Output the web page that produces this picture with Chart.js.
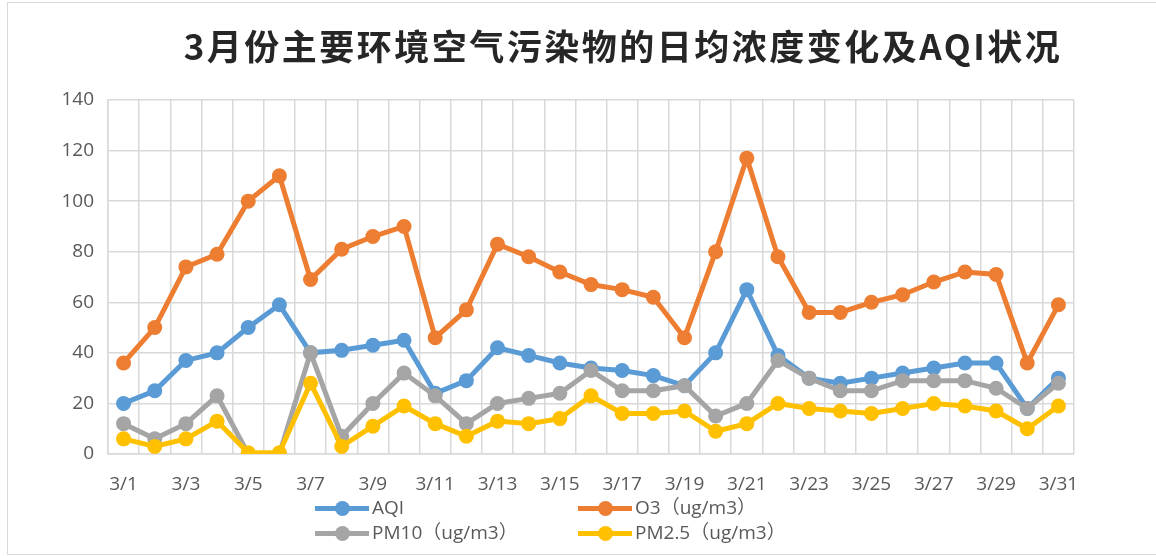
<!DOCTYPE html>
<html>
<head>
<meta charset="utf-8">
<script src="https://cdn.jsdelivr.net/npm/chart.js@4"></script>
<style>
  body { margin: 0; background: #ffffff; }
  .wrap { position: relative; width: 1156px; height: 556px; overflow: hidden; }
  .frame { position: absolute; left: 7px; top: 2px; width: 1200px; height: 551px; border: 1px solid #d9d9d9; }
  .title {
    position: absolute; left: 90px; right: 0; top: 19px; text-align: center;
    font-family: "Noto Sans CJK SC", sans-serif; font-weight: bold; font-size: 35px;
    letter-spacing: 2.5px; color: #262626;
  }
  canvas { position: absolute; left: 0; top: 0; }
  .legend { position: absolute; left: 0; top: 0; font-family: "Open Sans", "Noto Sans CJK SC", sans-serif; font-size: 19px; color: #595959; }
  .item { position: absolute; height: 24px; line-height: 24px; white-space: nowrap; }
  .item .line { position: absolute; left: 0; top: 10px; width: 54px; height: 5px; }
  .item .dot { position: absolute; left: 20px; top: 5px; width: 15px; height: 15px; border-radius: 50%; }
  .item .txt { position: absolute; left: 57px; top: -1px; }
</style>
</head>
<body>
<div class="wrap">
  <div class="frame"></div>
  <canvas id="lineChart" width="1156" height="556"></canvas>
  <div class="title">3月份主要环境空气污染物的日均浓度变化及AQI状况</div>
  <div class="legend" id="legend"></div>
</div>
<script>
const days = ['3/1', '3/2', '3/3', '3/4', '3/5', '3/6', '3/7', '3/8', '3/9', '3/10',
    '3/11', '3/12', '3/13', '3/14', '3/15', '3/16', '3/17', '3/18', '3/19', '3/20',
    '3/21', '3/22', '3/23', '3/24', '3/25', '3/26', '3/27', '3/28', '3/29', '3/30', '3/31'];
const aqi = [20, 25, 37, 40, 50, 59, 40, 41, 43, 45, 24, 29, 42, 39, 36, 34, 33, 31, 27, 40, 65, 39, 30, 28, 30, 32, 34, 36, 36, 18, 30];
const o3 = [36, 50, 74, 79, 100, 110, 69, 81, 86, 90, 46, 57, 83, 78, 72, 67, 65, 62, 46, 80, 117, 78, 56, 56, 60, 63, 68, 72, 71, 36, 59];
const pm10 = [12, 6, 12, 23, 0, 0, 40, 7, 20, 32, 23, 12, 20, 22, 24, 33, 25, 25, 27, 15, 20, 37, 30, 25, 25, 29, 29, 29, 26, 18, 28];
const pm25 = [6, 3, 6, 13, 0.5, 0.5, 28, 3, 11, 19, 12, 7, 13, 12, 14, 23, 16, 16, 17, 9, 12, 20, 18, 17, 16, 18, 20, 19, 17, 10, 19];
const yTicks = [0, 20, 40, 60, 80, 100, 120, 140];

const seriesNames = ['AQI', 'O3（ug/m3）', 'PM10（ug/m3）', 'PM2.5（ug/m3）'];
const seriesColors = ['#5b9bd5', '#ed7d31', '#a5a5a5', '#ffc000'];
const seriesData = [aqi, o3, pm10, pm25];

const tickFont = { family: '"Open Sans", sans-serif', size: 19 };
const gridColor = '#d9d9d9';

const ctx = document.getElementById('lineChart').getContext('2d');

let chartConfig = {
    type: 'line',
    data: {
        labels: days,
        datasets: seriesData.map(function(values, i) {
            return {
                label: seriesNames[i],
                data: values,
                borderColor: seriesColors[i],
                backgroundColor: seriesColors[i],
                pointBackgroundColor: seriesColors[i],
                pointBorderColor: seriesColors[i],
                borderWidth: 5,
                pointRadius: 7.5,
                pointBorderWidth: 0,
                tension: 0,
                order: 4 - i // later series on top, like the original
            };
        })
    },
    options: {
        responsive: false,
        animation: false,
        layout: {
            padding: { left: 0, top: 100, right: 82, bottom: 0 }
        },
        plugins: {
            legend: { display: false },
            title: { display: false },
            tooltip: { enabled: false }
        },
        scales: {
            y: {
                min: 0,
                max: 140,
                afterBuildTicks: function(scale) {
                    scale.ticks = yTicks.map(function(v) { return { value: v }; });
                },
                afterFit: function(scale) {
                    scale.width = 108;
                },
                ticks: {
                    font: tickFont,
                    color: '#595959',
                    padding: 14
                },
                grid: {
                    color: gridColor,
                    lineWidth: 1.5,
                    drawTicks: false
                },
                border: { display: true, color: gridColor, width: 1.5 }
            },
            x: {
                offset: true,
                afterFit: function(scale) {
                    scale.height = 102;
                },
                ticks: {
                    autoSkip: false,
                    maxRotation: 0,
                    font: tickFont,
                    color: '#595959',
                    padding: 19,
                    callback: function(value, index) {
                        return index % 2 === 0 ? days[index] : '';
                    }
                },
                grid: {
                    offset: true,
                    color: gridColor,
                    lineWidth: 1.5,
                    drawTicks: false
                },
                border: { display: true, color: gridColor, width: 1.5 }
            }
        }
    }
};

let myChart = new Chart(ctx, chartConfig);

// legend in two columns, like the original
const legendPos = [[315, 496], [578, 496], [315, 521], [578, 521]];
const legendEl = document.getElementById('legend');
seriesNames.forEach(function(name, i) {
    const item = document.createElement('div');
    item.className = 'item';
    item.style.left = legendPos[i][0] + 'px';
    item.style.top = legendPos[i][1] + 'px';
    item.innerHTML = '<span class="line" style="background:' + seriesColors[i] + '"></span>' +
        '<span class="dot" style="background:' + seriesColors[i] + '"></span>' +
        '<span class="txt">' + name + '</span>';
    legendEl.appendChild(item);
});
</script>
</body>
</html>
